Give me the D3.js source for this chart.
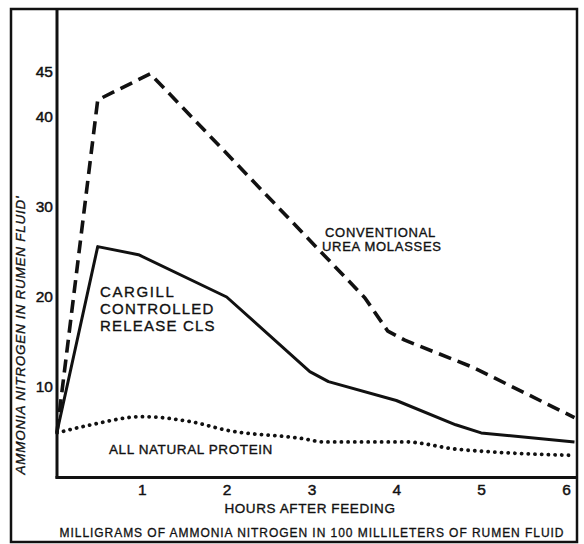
<!DOCTYPE html>
<html>
<head>
<meta charset="utf-8">
<script src="https://cdn.jsdelivr.net/npm/d3@7"></script>
<style>
  html, body { margin: 0; padding: 0; background: #fff; }
  svg { display: block; }
  text { font-family: "Liberation Sans", Arial, Helvetica, sans-serif; fill: #111; }
</style>
</head>
<body>
<svg id="chart" width="584" height="544"></svg>
<script>
// ---- data (hours after feeding, mg NH3-N / 100 ml) ----
const ureaHours   = [0, 0.48, 1.1, 3.63, 3.9, 4.1, 4.9, 6.1];
const ureaValues  = [5, 41.9, 44.8, 19.9, 16.2, 15.2, 12.2, 6.6];

const clsHours    = [0, 0.48, 0.96, 2.0, 2.98, 3.2, 4.0, 4.7, 5.0, 6.1];
const clsValues   = [5, 25.6, 24.7, 20.0, 11.7, 10.6, 8.5, 5.8, 4.9, 3.9];

const protHours   = [0, 0.4, 1.0, 1.6, 2.0, 2.87, 3.15, 4.1, 4.7, 5.1, 6.1];
const protValues  = [4.9, 5.8, 6.7, 6.1, 5.2, 4.3, 3.9, 3.9, 3.1, 2.8, 2.4];

const xTickValues = [1, 2, 3, 4, 5, 6];
const yTickValues = [10, 20, 30, 40, 45];

const seriesLabels = {
  urea: ["CONVENTIONAL", "UREA MOLASSES"],
  cls: ["CARGILL", "CONTROLLED", "RELEASE CLS"],
  prot: ["ALL NATURAL PROTEIN"]
};
const xTitle = "HOURS AFTER FEEDING";
const yTitle = "AMMONIA NITROGEN IN RUMEN FLUID'";
const footnote = "MILLIGRAMS OF AMMONIA NITROGEN IN 100 MILLILETERS OF RUMEN FLUID";

// ---- layout ----
const svg = d3.select("#chart");
const x = d3.scaleLinear().domain([0, 6]).range([57, 566]);
const y = d3.scaleLinear().domain([0, 10]).range([477, 387]);

// outer frame
svg.append("rect")
  .attr("x", 11).attr("y", 9).attr("width", 566).attr("height", 533)
  .attr("fill", "none").attr("stroke", "#111").attr("stroke-width", 2.5);

// axes lines
svg.append("line").attr("x1", x(0)).attr("x2", x(0)).attr("y1", 9).attr("y2", 478.5)
  .attr("stroke", "#111").attr("stroke-width", 3);
svg.append("line").attr("x1", x(0) - 1.5).attr("x2", 577).attr("y1", 477.5).attr("y2", 477.5)
  .attr("stroke", "#111").attr("stroke-width", 3);

// y tick labels
const yAxis = svg.append("g").attr("transform", `translate(${x(0) - 4},0)`)
  .call(d3.axisLeft(y).tickValues(yTickValues).tickSize(0).tickPadding(0));
yAxis.select(".domain").remove();
yAxis.selectAll("text")
  .style("font-family", "'Liberation Sans', Arial, sans-serif")
  .style("font-size", "15.5px").attr("fill", "#111")
  .attr("stroke", "#111").attr("stroke-width", 0.45);

// x tick labels
const xAxis = svg.append("g").attr("transform", `translate(0,${y(0)})`)
  .call(d3.axisBottom(x).tickValues(xTickValues).tickSize(0).tickPadding(7).tickFormat(d3.format("d")));
xAxis.select(".domain").remove();
xAxis.selectAll("text")
  .style("font-family", "'Liberation Sans', Arial, sans-serif")
  .style("font-size", "15.5px").attr("fill", "#111")
  .attr("stroke", "#111").attr("stroke-width", 0.45);

// lines
const line = d3.line().x(d => x(d[0])).y(d => y(d[1]));

svg.append("path")
  .datum(ureaHours.map((h, i) => [h, ureaValues[i]]))
  .attr("d", line).attr("fill", "none").attr("stroke", "#111")
  .attr("stroke-width", 3.6).attr("stroke-dasharray", "13 7").attr("stroke-linejoin", "round");

svg.append("path")
  .datum(clsHours.map((h, i) => [h, clsValues[i]]))
  .attr("d", line).attr("fill", "none").attr("stroke", "#111")
  .attr("stroke-width", 3).attr("stroke-linejoin", "round");

svg.append("path")
  .datum(protHours.map((h, i) => [h, protValues[i]]))
  .attr("d", d3.line().curve(d3.curveMonotoneX).x(d => x(d[0])).y(d => y(d[1])))
  .attr("fill", "none").attr("stroke", "#111")
  .attr("stroke-width", 3.8).attr("stroke-linecap", "round").attr("stroke-dasharray", "0.1 6.6");

// series labels
const lbl = (txt, px, py, size, ls) => svg.append("text")
  .attr("x", px).attr("y", py).attr("dominant-baseline", "central")
  .style("font-size", size + "px").style("letter-spacing", ls + "px")
  .attr("stroke", "#111").attr("stroke-width", 0.35).text(txt);

lbl(seriesLabels.urea[0], 325, 232, 13, 0.7);
lbl(seriesLabels.urea[1], 322, 246, 13, 0.7);
lbl(seriesLabels.cls[0], 100, 291, 15, 1.6);
lbl(seriesLabels.cls[1], 100, 308, 15, 1.2);
lbl(seriesLabels.cls[2], 100, 325, 15, 1.2);
lbl(seriesLabels.prot[0], 109, 449, 13.5, 0.6);

// axis titles
svg.append("text").attr("x", 310).attr("y", 508).attr("text-anchor", "middle")
  .attr("dominant-baseline", "central").style("font-size", "13.5px").style("letter-spacing", "0.6px")
  .attr("stroke", "#111").attr("stroke-width", 0.35).text(xTitle);

svg.append("text").attr("transform", "translate(20,335) rotate(-90)")
  .attr("text-anchor", "middle").attr("dominant-baseline", "central")
  .style("font-size", "13.5px").style("font-style", "italic").style("letter-spacing", "0.75px")
  .attr("stroke", "#111").attr("stroke-width", 0.35).text(yTitle);

svg.append("text").attr("x", 312).attr("y", 533).attr("text-anchor", "middle")
  .attr("dominant-baseline", "central").style("font-size", "12px").style("letter-spacing", "0.95px")
  .attr("stroke", "#111").attr("stroke-width", 0.3).text(footnote);
</script>
</body>
</html>
